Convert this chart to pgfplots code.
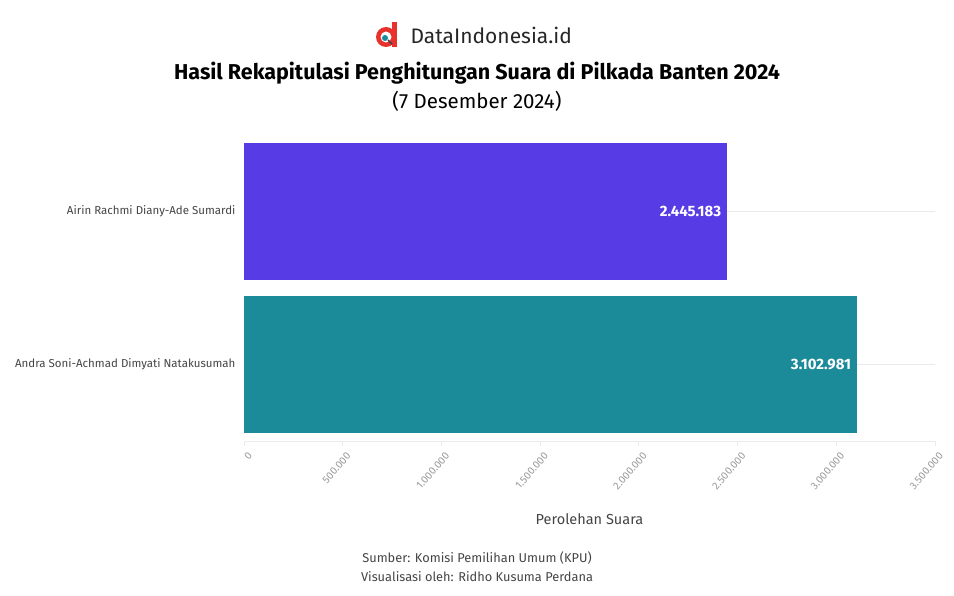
\documentclass[border=0pt]{standalone}
\usepackage{fontspec}
\setmainfont{Fira Sans}
\usepackage{pgfplots}
\pgfplotsset{compat=1.18}
\definecolor{barblue}{HTML}{573BE5}
\definecolor{barteal}{HTML}{1B8A99}
\definecolor{gridc}{HTML}{EBEBEB}
\definecolor{labc}{HTML}{444444}
\definecolor{tickc}{HTML}{9A9A9A}
\definecolor{logored}{HTML}{E8302C}
\begin{document}
\begin{tikzpicture}[x=1pt,y=1pt]
\path[use as bounding box] (0,0) rectangle (954,-596);
% logo
\fill[logored] (386,-37) circle (10);
\fill[logored] (392,-22) rectangle (397,-47);
\fill[white] (386,-37) circle (5.5);
\fill[barteal] (385,-38) circle (3);
\draw[labc,line width=1.5] (388,-40) -- (392,-44);
\node[font=\fontsize{21}{24}\selectfont, text=black!85, anchor=west] at (407,-35) {DataIndonesia.id};
% titles
\node[font=\fontsize{21.5}{24}\selectfont\bfseries] at (477,-73) {Hasil Rekapitulasi Penghitungan Suara di Pilkada Banten 2024};
\node[font=\fontsize{20.5}{24}\selectfont] at (477,-101) {(7 Desember 2024)};
\begin{axis}[at={(244pt,-441pt)}, anchor=south west, scale only axis,
  width=691pt, height=306pt,
  xbar, bar width=0.9, bar shift=0pt,
  xmin=0, xmax=3500000, ymin=-0.5, ymax=1.5,
  ytick={0,1},
  yticklabels={Andra Soni-Achmad Dimyati Natakusumah, Airin Rachmi Diany-Ade Sumardi},
  xtick={0,500000,1000000,1500000,2000000,2500000,3000000,3500000},
  xticklabels={0,500.000,1.000.000,1.500.000,2.000.000,2.500.000,3.000.000,3.500.000},
  scaled x ticks=false,
  axis lines*=left, separate axis lines,
  y axis line style={draw=none},
  x axis line style={draw=gridc, line width=0.8pt, -},
  ytick style={draw=none},
  xtick style={draw=gridc, line width=0.8pt},
  tick align=outside, major tick length=5pt,
  ymajorgrids, grid style={gridc, line width=0.8pt},
  yticklabel style={font=\fontsize{11.5}{13}\selectfont, text=labc},
  xticklabel style={font=\fontsize{10.5}{12}\selectfont, text=tickc, rotate=49, anchor=north east, inner sep=2pt, yshift=-4pt},
  xlabel={Perolehan Suara},
  xlabel style={font=\fontsize{14.5}{16}\selectfont, text=labc, at={(0.5,0)}, anchor=north, yshift=-69pt},
  nodes near coords, point meta=explicit symbolic,
  nodes near coords style={anchor=east, font=\fontsize{15}{17}\selectfont\bfseries, text=white, xshift=-2pt},
]
\addplot[fill=barblue, draw=none] coordinates {(2445183,1) [2.445.183]};
\addplot[fill=barteal, draw=none] coordinates {(3102981,0) [3.102.981]};
\end{axis}
\node[font=\fontsize{12.8}{14}\selectfont, text=labc] at (477,-558) {Sumber: Komisi Pemilihan Umum (KPU)};
\node[font=\fontsize{12.8}{14}\selectfont, text=labc] at (477,-577) {Visualisasi oleh: Ridho Kusuma Perdana};
\end{tikzpicture}
\end{document}
